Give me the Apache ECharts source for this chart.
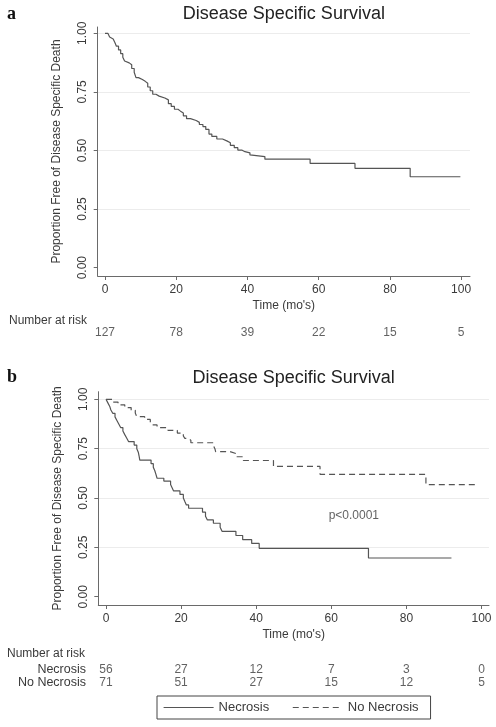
<!DOCTYPE html>
<html><head><meta charset="utf-8">
<script src="https://cdn.jsdelivr.net/npm/echarts@6/dist/echarts.min.js"></script>
<style>html,body{margin:0;padding:0;background:#fff}#c{width:496px;height:727px}</style>
</head><body><div id="c"></div>
<script>
// ---------- data ----------
const titleText = 'Disease Specific Survival';
const xAxisName = "Time (mo's)";
const yAxisName = 'Proportion Free of Disease Specific Death';
const xTicks = [0, 20, 40, 60, 80, 100];
const yTicks = [0, 0.25, 0.5, 0.75, 1];
const yTickLabels = ['0.00', '0.25', '0.50', '0.75', '1.00'];

// panel a: overall KM curve [time, survival]
const overallCurve = [
  [0, 1.0], [0.8, 0.992], [1.3, 0.984], [1.8, 0.976], [2.3, 0.968], [2.8, 0.960],
  [3.2, 0.945], [3.8, 0.929], [4.4, 0.913], [5.0, 0.898], [5.5, 0.882], [6.0, 0.874],
  [6.8, 0.866], [7.5, 0.850], [8.2, 0.834], [8.7, 0.811], [9.4, 0.803], [10.5, 0.795],
  [11.3, 0.787], [12.0, 0.771], [12.7, 0.755], [13.4, 0.740], [14.3, 0.732], [15.2, 0.724],
  [16.8, 0.716], [17.8, 0.700], [18.6, 0.688], [19.5, 0.676], [20.5, 0.668], [21.2, 0.660],
  [22.0, 0.648], [22.9, 0.636], [24.0, 0.628], [25.6, 0.620], [26.5, 0.611], [27.5, 0.602],
  [28.3, 0.590], [29.2, 0.570], [30.0, 0.560], [31.4, 0.549], [33.0, 0.541], [34.2, 0.533],
  [35.2, 0.522], [36.3, 0.512], [37.3, 0.502], [38.4, 0.495], [39.3, 0.490], [40.7, 0.481],
  [41.2, 0.474], [44.9, 0.463], [57.6, 0.445], [70.2, 0.424], [85.7, 0.388], [99.8, 0.388]
];

// panel b: by necrosis status
const necrosisCurve = [
  [0, 1.0], [0.5, 0.982], [1.0, 0.964], [1.3, 0.946], [1.8, 0.929], [2.4, 0.911],
  [2.9, 0.893], [3.4, 0.875], [3.9, 0.857], [4.5, 0.839], [5.0, 0.821], [5.5, 0.804],
  [6.0, 0.786], [7.5, 0.768], [8.2, 0.750], [8.6, 0.732], [8.8, 0.714], [9.0, 0.692],
  [12.0, 0.674], [12.6, 0.656], [13.0, 0.638], [13.3, 0.620], [13.6, 0.600], [15.4, 0.586],
  [17.2, 0.568], [17.6, 0.552], [18.0, 0.536], [19.7, 0.518], [20.6, 0.500], [21.0, 0.482],
  [21.4, 0.465], [22.0, 0.448], [25.7, 0.428], [26.5, 0.408], [27.0, 0.389], [28.6, 0.372],
  [30.4, 0.352], [30.9, 0.331], [34.6, 0.310], [36.4, 0.289], [38.8, 0.270], [40.8, 0.245],
  [69.9, 0.196], [92.0, 0.196]
];
const noNecrosisCurve = [
  [0, 1.0], [1.9, 0.986], [3.2, 0.972], [5.0, 0.958], [6.7, 0.944], [7.8, 0.930],
  [8.2, 0.912], [10.3, 0.898], [11.8, 0.884], [12.2, 0.870], [13.6, 0.857], [16.5, 0.843],
  [19.0, 0.829], [20.6, 0.814], [21.0, 0.802], [22.0, 0.792], [22.6, 0.780], [28.6, 0.766],
  [29.0, 0.750], [29.2, 0.735], [33.0, 0.725], [34.6, 0.709], [36.6, 0.690], [44.6, 0.660],
  [57.0, 0.620], [85.2, 0.568], [98.7, 0.568]
];

const riskTimes = [0, 20, 40, 60, 80, 100];
const riskOverall = [127, 78, 39, 22, 15, 5];
const riskNecrosis = [56, 27, 12, 7, 3, 0];
const riskNoNecrosis = [71, 51, 27, 15, 12, 5];
const groupNames = ['Necrosis', 'No Necrosis'];
const riskTitle = 'Number at risk';
const pValueText = 'p<0.0001';
const pValuePos = [66, 0.41];

// ---------- chart ----------
const FONT = '"Liberation Sans", Arial, sans-serif';
const TXT = '#3a3a3a';
const AX = '#6a6a6a';
const CURVE = '#555';
const NONE = 'rgba(0,0,0,0)';

const gA = {left: 97.7, top: 27, width: 372.3, height: 249};
const gB = {left: 98.3, top: 391.7, width: 390.7, height: 213.3};
const xA = {min: -2.05, max: 102.5};
const xB = {min: -2.05, max: 102.0};
const yA = {min: -0.0355, max: 1.027};
const yB = {min: -0.042, max: 1.0385};

function plotX(idx, r) {
  return {
    type: 'value', gridIndex: idx, min: r.min, max: r.max,
    name: xAxisName, nameLocation: 'middle', nameGap: 24,
    nameTextStyle: {fontFamily: FONT, fontSize: 12, color: TXT},
    axisLine: {show: true, onZero: false, lineStyle: {color: AX, width: 1}},
    axisTick: {show: true, length: 4, customValues: xTicks, lineStyle: {color: AX}},
    axisLabel: {show: true, customValues: xTicks, margin: 8, fontFamily: FONT, fontSize: 12, color: TXT},
    splitLine: {show: false}
  };
}
function plotY(idx, r) {
  return {
    type: 'value', gridIndex: idx, min: r.min, max: r.max,
    name: yAxisName, nameLocation: 'middle', nameGap: 35, nameRotate: 90,
    nameTextStyle: {fontFamily: FONT, fontSize: 12, color: TXT},
    axisLine: {show: true, onZero: false, lineStyle: {color: AX, width: 1}},
    axisTick: {show: true, length: 4, customValues: yTicks, lineStyle: {color: AX}},
    axisLabel: {show: true, customValues: yTicks, rotate: 90, margin: 9,
      fontFamily: FONT, fontSize: 12, color: TXT,
      formatter: v => yTickLabels[yTicks.indexOf(+v)] !== undefined ? yTickLabels[yTicks.indexOf(+v)] : v.toFixed(2)},
    splitLine: {show: true, lineStyle: {color: [NONE, '#ececec', '#ececec', '#ececec', '#ececec'], width: 1}}
  };
}
function hiddenX(idx, r) {
  return {type: 'value', gridIndex: idx, min: r.min, max: r.max, show: false, splitLine: {show: false}};
}
function hiddenY(idx) {
  return {type: 'value', gridIndex: idx, min: 0, max: 1, show: false, splitLine: {show: false}};
}
function riskSeries(idx, counts) {
  return {
    type: 'scatter', xAxisIndex: idx, yAxisIndex: idx, silent: true,
    symbolSize: 0, data: riskTimes.map((t, i) => [t, 0.5, counts[i]]),
    label: {show: true, position: 'inside', formatter: p => String(p.value[2]),
      fontFamily: FONT, fontSize: 12, color: TXT}
  };
}
function curve(name, data, xi, dashed) {
  return {
    name: name, type: 'line', step: 'end', xAxisIndex: xi, yAxisIndex: xi,
    symbol: 'none', silent: true, data: data,
    lineStyle: {color: CURVE, width: 1.2, type: dashed ? [6, 4] : 'solid'},
    itemStyle: {color: CURVE}
  };
}

const rowA = {left: gA.left, width: gA.width, top: 327, height: 12};
const rowB1 = {left: gB.left, width: gB.width, top: 664, height: 12};
const rowB2 = {left: gB.left, width: gB.width, top: 677, height: 12};

const option = {
  animation: false,
  backgroundColor: '#fff',
  grid: [gA, rowA, gB, rowB1, rowB2].map(g => Object.assign({outerBoundsMode: 'none', containLabel: false}, g)),
  xAxis: [plotX(0, xA), hiddenX(1, xA), plotX(2, xB), hiddenX(3, xB), hiddenX(4, xB)],
  yAxis: [plotY(0, yA), hiddenY(1), plotY(2, yB), hiddenY(3), hiddenY(4)],
  legend: {
    data: groupNames, left: 157, top: 696, orient: 'horizontal',
    itemWidth: 50, itemHeight: 14, itemGap: 23,
    padding: [5, 12, 5, 6],
    borderColor: '#444', borderWidth: 1, borderRadius: 0,
    itemStyle: {color: NONE, borderColor: NONE, borderWidth: 0},
    lineStyle: {color: CURVE, width: 1.2},
    textStyle: {fontFamily: FONT, fontSize: 13, color: TXT},
    selectedMode: false
  },
  series: [
    curve('Overall', overallCurve, 0, false),
    riskSeries(1, riskOverall),
    curve(groupNames[0], necrosisCurve, 2, false),
    curve(groupNames[1], noNecrosisCurve, 2, true),
    riskSeries(3, riskNecrosis),
    riskSeries(4, riskNoNecrosis),
    {
      type: 'scatter', xAxisIndex: 2, yAxisIndex: 2, silent: true, symbolSize: 0,
      data: [pValuePos],
      label: {show: true, position: 'inside', formatter: pValueText,
        fontFamily: FONT, fontSize: 12, color: TXT}
    }
  ],
  graphic: [
    {type: 'text', left: 7, top: 5, style: {text: 'a', font: 'bold 18px "Liberation Serif", serif', fill: '#111'}},
    {type: 'text', left: 7, top: 368, style: {text: 'b', font: 'bold 18px "Liberation Serif", serif', fill: '#111'}},
    {type: 'text', x: gA.left + gA.width / 2, y: 14, style: {text: titleText, font: '18px ' + FONT, fill: '#222', align: 'center', verticalAlign: 'middle'}},
    {type: 'text', x: gB.left + gB.width / 2, y: 378, style: {text: titleText, font: '18px ' + FONT, fill: '#222', align: 'center', verticalAlign: 'middle'}},
    {type: 'text', x: 9, y: 321, style: {text: riskTitle, font: '12px ' + FONT, fill: TXT, align: 'left', verticalAlign: 'middle'}},
    {type: 'text', x: 7, y: 654, style: {text: riskTitle, font: '12px ' + FONT, fill: TXT, align: 'left', verticalAlign: 'middle'}},
    {type: 'text', x: 86, y: 670, style: {text: groupNames[0], font: '12.5px ' + FONT, fill: TXT, align: 'right', verticalAlign: 'middle'}},
    {type: 'text', x: 86, y: 683, style: {text: groupNames[1], font: '12.5px ' + FONT, fill: TXT, align: 'right', verticalAlign: 'middle'}}
  ]
};

const chart = echarts.init(document.getElementById('c'), null, {renderer: 'canvas'});
chart.setOption(option);
</script>
</body></html>
